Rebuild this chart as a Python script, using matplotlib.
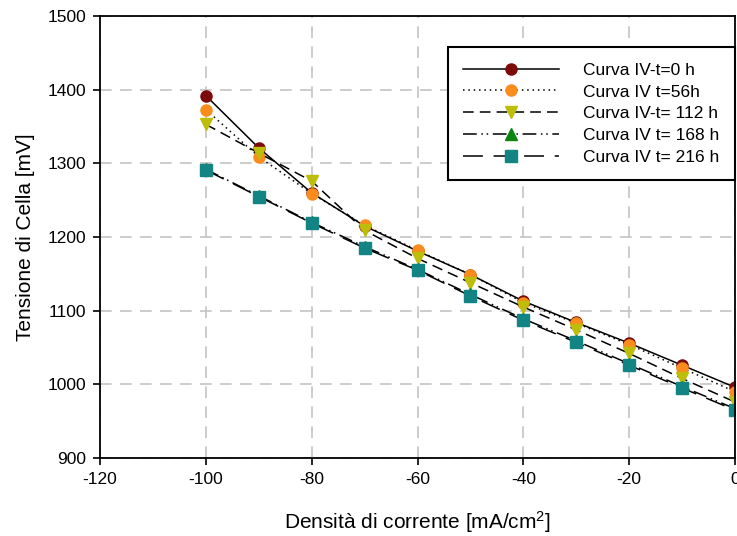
import numpy as np
import matplotlib
matplotlib.use("Agg")
import matplotlib.pyplot as plt

plt.rcParams['font.family'] = ['Liberation Sans', 'DejaVu Sans']
plt.rcParams['mathtext.default'] = 'regular'
plt.rcParams['axes.unicode_minus'] = False

# densita di corrente [mA/cm2]
j = [-100, -90, -80, -70, -60, -50, -40, -30, -20, -10, 0]

# tensione di cella [mV] per ogni tempo di prova
v_0h = [1392, 1321, 1260, 1215, 1181, 1149, 1113, 1084, 1056, 1026, 996]
v_56h = [1373, 1309, 1259, 1216, 1182, 1149, 1111, 1083, 1054, 1022, 990]
v_112h = [1353, 1314, 1276, 1209, 1171, 1138, 1105, 1074, 1042, 1008, 976]
v_168h = [1292, 1256, 1220, 1187, 1156, 1122, 1089, 1059, 1028, 997, 967]
v_216h = [1291, 1255, 1219, 1185, 1155, 1120, 1087, 1057, 1026, 995, 965]

etichette = ['Curva IV-t=0 h', 'Curva IV t=56h', 'Curva IV-t= 112 h',
             'Curva IV t= 168 h', 'Curva IV t= 216 h']
colori = ['#7d0a0a', '#f98c1c', '#bdbd0a', '#0c850c', '#138484']
marker = ['o', 'o', 'v', '^', 's']
tratti = [(None, None), (1, 2.5), (7, 4), (9, 3, 1, 2.5, 1, 3), (13, 7)]

fig = plt.figure(figsize=(7.37, 5.36), dpi=100)
ax = fig.add_axes([0.1357, 0.1455, 0.8616, 0.8245])

serie = [v_0h, v_56h, v_112h, v_168h, v_216h]
for v, lab, c, m, d in zip(serie, etichette, colori, marker, tratti):
    line, = ax.plot(j, v, color='black', lw=1.1, marker=m, markersize=8,
                    markerfacecolor=c, markeredgecolor=c, label=lab)
    if d[0] is not None:
        line.set_dashes(d)

ax.set_xlim(-120, 0)
ax.set_ylim(900, 1500)
ax.set_xticks(np.arange(-120, 1, 20))
ax.set_yticks(np.arange(900, 1501, 100))
ax.grid(True, color='#c4c4c4', linestyle=(0, (7, 5)), linewidth=1.2)
ax.set_axisbelow(True)
for s in ax.spines.values():
    s.set_linewidth(1.3)
ax.tick_params(direction='out', length=5, width=1.2, labelsize=12.5, pad=5)

ax.set_xlabel('Densità di corrente [mA/cm$^2$]', fontsize=15, labelpad=16)
ax.set_ylabel('Tensione di Cella [mV]', fontsize=15, labelpad=9)

leg = ax.legend(loc='upper right', bbox_to_anchor=(1.0, 0.93), borderaxespad=0,
                fontsize=12.5, numpoints=1, handlelength=5.5, handletextpad=1.4,
                labelspacing=0.38, fancybox=False, framealpha=1, borderpad=0.9)
leg.get_frame().set_edgecolor('black')
leg.get_frame().set_linewidth(1.5)

fig.savefig('out.png', dpi=100)
